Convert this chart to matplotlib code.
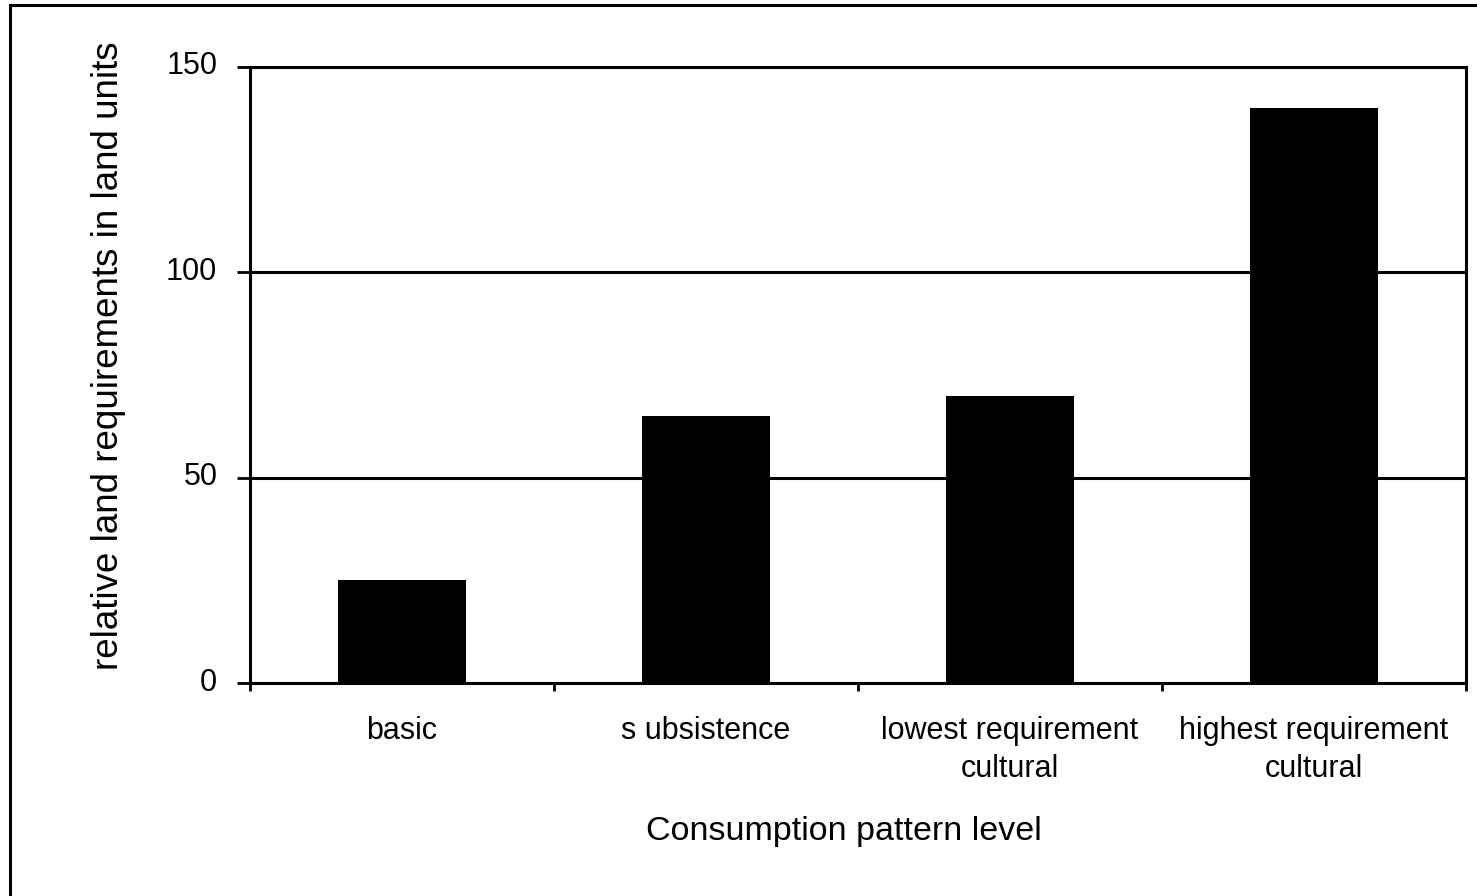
import numpy as np
import matplotlib.pyplot as plt
from matplotlib.lines import Line2D
from matplotlib.transforms import offset_copy

plt.rcParams['font.family'] = ['Liberation Sans', 'DejaVu Sans']

# data
categories = ['basic', 's ubsistence', 'lowest requirement\ncultural', 'highest requirement\ncultural']
land_units = [25, 65, 70, 140]
y_ticks = [0, 50, 100, 150]

fig = plt.figure(figsize=(14.77, 8.96), dpi=100)
ax = fig.add_axes([250/1477, 1 - 683/896, 1216/1477, 616/896])

x = np.arange(len(categories))
ax.bar(x, land_units, width=0.42, color='black', zorder=3)

ax.set_xlim(-0.5, len(categories) - 0.5)
ax.set_ylim(0, 150)

# y axis: gridlines at every tick, outward ticks
ax.set_yticks(y_ticks)
ax.yaxis.grid(True, color='black', linewidth=2.2, zorder=1)
ax.tick_params(axis='y', direction='out', length=9.5, width=2, pad=14, labelsize=22)
for lab in ax.get_yticklabels():
    lab.set_transform(offset_copy(lab.get_transform(), fig=fig, y=4, units='dots'))

# x axis: labels at centres, ticks at category boundaries
ax.set_xticks(x)
ax.set_xticklabels(categories, linespacing=1.35)
ax.set_xticks(np.arange(len(categories) + 1) - 0.5, minor=True)
ax.tick_params(axis='x', which='major', length=0, pad=24, labelsize=22)
ax.tick_params(axis='x', which='minor', direction='out', length=6, width=2)

for side in ['left', 'bottom', 'right', 'top']:
    ax.spines[side].set_linewidth(2.2)
    ax.spines[side].set_color('black')

fig.text(844/1477, 1 - 840/896, 'Consumption pattern level', fontsize=24.5,
         ha='center', va='baseline')
fig.text(109/1477, 1 - 356/896, 'relative land requirements in land units', fontsize=26.5,
         rotation=90, ha='center', va='center')

# outer frame (only left and top edges visible in the reference)
fig.add_artist(Line2D([10/1477, 10/1477], [0, 1 - 5/896], transform=fig.transFigure,
                      color='black', linewidth=2.2))
fig.add_artist(Line2D([10/1477, 1], [1 - 5/896, 1 - 5/896], transform=fig.transFigure,
                      color='black', linewidth=2.2))

fig.savefig('out.png', dpi=100)
